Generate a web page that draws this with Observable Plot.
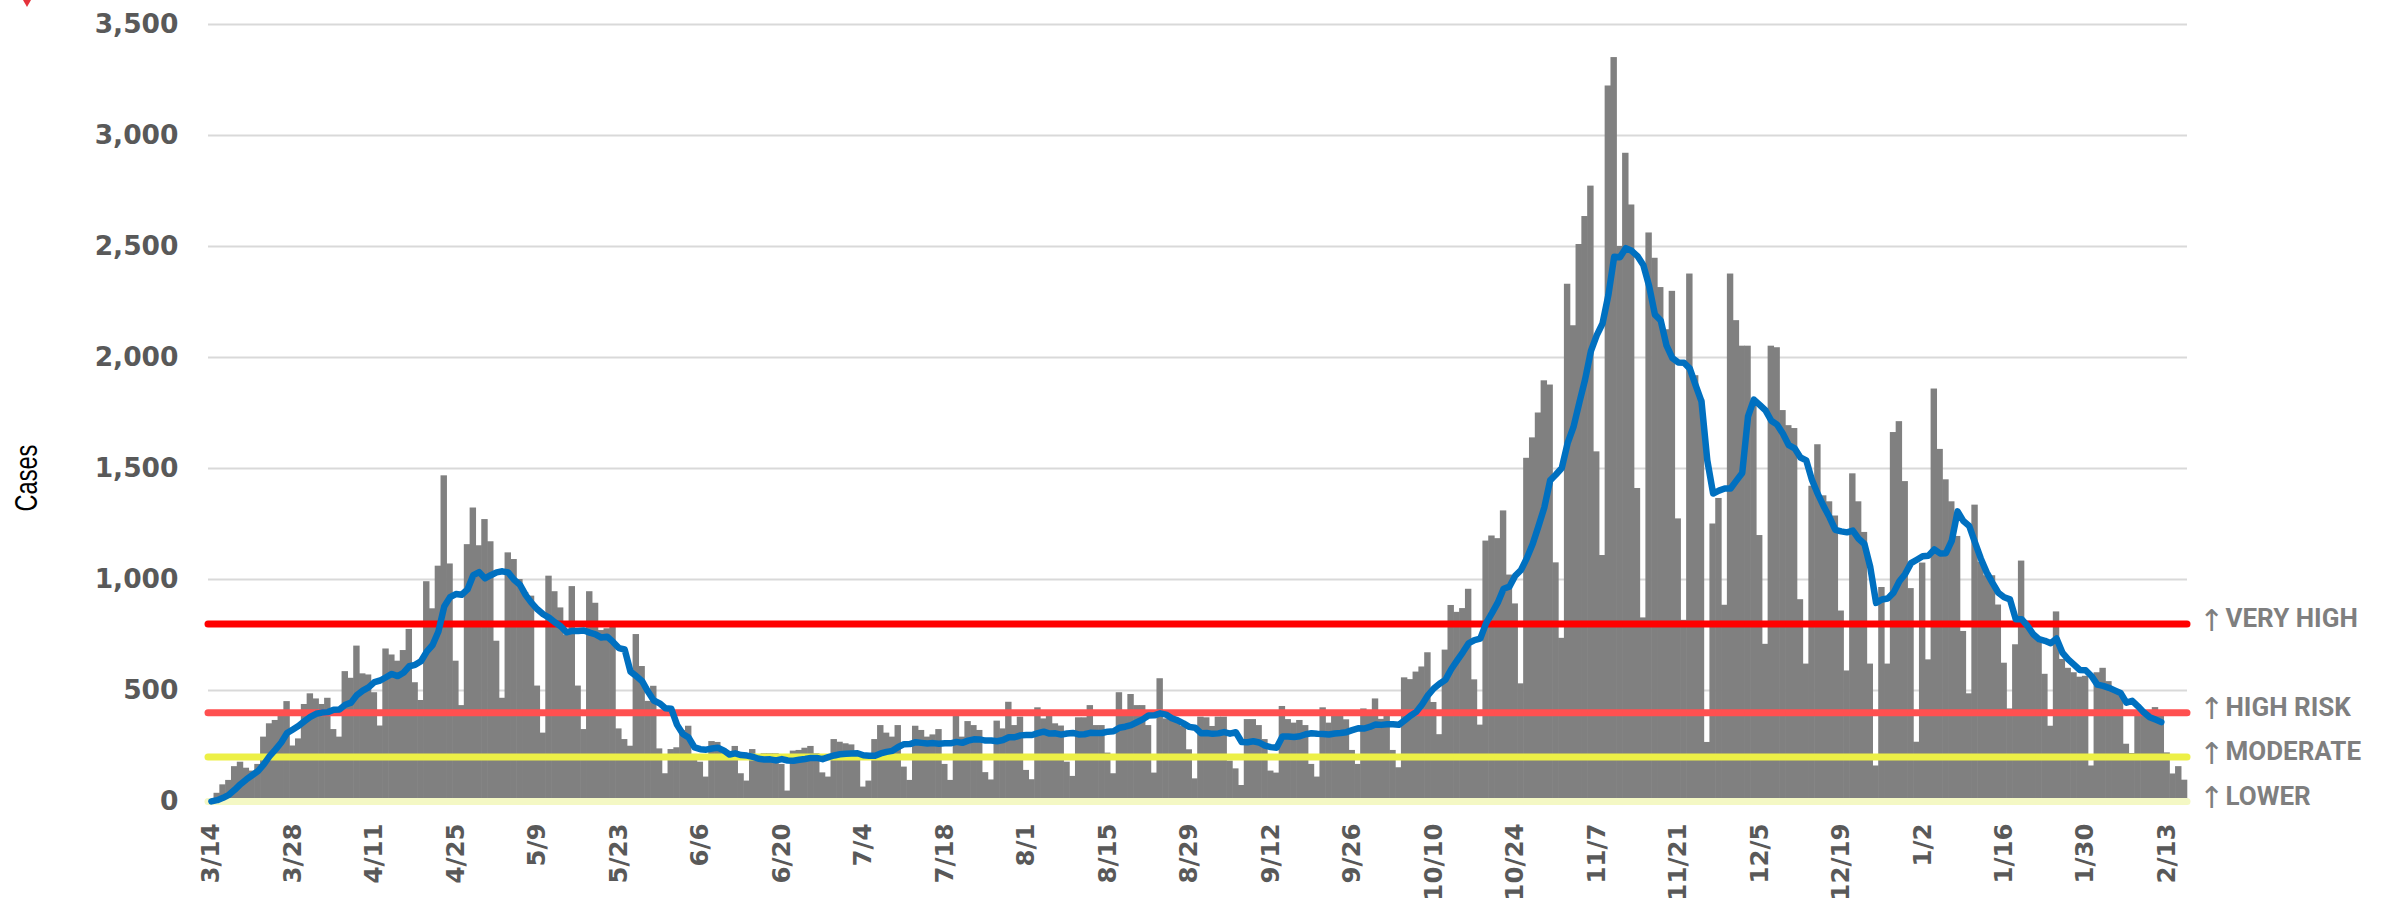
<!DOCTYPE html>
<html>
<head>
<meta charset="utf-8">
<script src="https://cdn.jsdelivr.net/npm/d3@7"></script>
<script src="https://cdn.jsdelivr.net/npm/@observablehq/plot@0.6"></script>
<style>
  html, body { margin: 0; padding: 0; background: #ffffff; }
  #wrap { position: relative; width: 2387px; height: 902px; overflow: hidden; }
  #mark { position: absolute; left: 23px; top: 0; width: 0; height: 0;
          border-left: 4px solid transparent; border-right: 4px solid transparent;
          border-top: 7px solid #e5323b; }
  #ylabel { position: absolute; left: 26px; top: 478px; white-space: nowrap; line-height: 1;
            font-family: 'Liberation Sans', Arial, sans-serif; font-size: 31px; color: #000000;
            transform-origin: center; transform: translate(-50%, -50%) rotate(-90deg) scaleX(0.76); }
  #wrap svg g[aria-label^="x-axis"] text { font-size: 24.5px; }
</style>
</head>
<body>
<div id="wrap"><div id="mark"></div><div id="ylabel">Cases</div></div>
<script>
// ---- data ----
const startDate = "2020-03-14";
const cases = [
  5,37,75,95,157,177,150,
  137,167,290,350,365,400,450,
  250,282,437,485,462,437,465,
  324,290,585,555,700,575,570,
  490,340,687,660,632,680,775,
  535,455,990,868,1060,1467,1070,
  632,432,1157,1322,1152,1270,1170,
  722,465,1120,1090,1000,940,925,
  520,308,1015,945,872,750,968,
  520,324,945,893,770,778,800,
  327,279,249,752,608,451,519,
  237,125,234,242,320,339,212,
  177,110,270,266,237,210,248,
  125,92,234,200,215,215,215,
  167,47,227,230,240,248,215,
  129,110,279,267,260,255,222,
  65,92,279,342,308,290,342,
  155,95,339,320,290,300,324,
  167,95,383,290,360,342,320,
  130,97,362,327,447,342,380,
  140,98,422,372,387,350,340,
  177,113,377,377,432,342,342,
  218,125,490,410,482,432,432,
  342,128,553,372,365,365,338,
  233,102,380,377,338,380,380,
  182,147,72,369,369,342,279,
  137,128,428,369,353,365,342,
  167,110,422,353,383,383,368,
  230,167,417,402,462,370,385,
  230,152,557,549,583,606,670,
  446,301,682,883,852,869,956,
  548,344,1173,1196,1184,1309,1020,
  890,530,1546,1638,1750,1895,1876,
  1075,735,2330,2143,2509,2635,2772,
  1575,1108,3223,3351,2500,2920,2687,
  1410,827,2561,2447,2315,2125,2298,
  1273,816,2376,1918,1811,266,1250,
  1365,884,2376,2166,2051,2051,1780,
  1198,708,2051,2044,1761,1693,1680,
  909,619,1420,1607,1377,1350,1286,
  858,588,1476,1350,1212,619,160,
  964,619,1662,1711,1441,959,267,
  1074,638,1858,1586,1449,1350,1194,
  766,485,1335,1078,1017,1017,885,
  623,417,706,1083,812,748,729,
  573,339,854,640,600,580,560,
  564,160,580,600,540,500,480,
  258,216,408,408,390,423,400,
  219,124,157,96
];
const tickLabels = ["3/14","3/28","4/11","4/25","5/9","5/23","6/6","6/20","7/4","7/18","8/1","8/15","8/29",
                    "9/12","9/26","10/10","10/24","11/7","11/21","12/5","12/19","1/2","1/16","1/30","2/13"];
const yTicks = [0, 500, 1000, 1500, 2000, 2500, 3000, 3500];
const thresholdValues = [800, 400, 200, 0];
const thresholdLabels = ["VERY HIGH", "HIGH RISK", "MODERATE", "LOWER"];
const thresholdColors = ["#FF0000", "#FF5050", "#EDF046", "#F4F8C4"];
const averageWindow = 7;
const averageLastDate = "2/12";

// ---- derived tables for the library ----
const fmt = d3.utcFormat("%-m/%-d");
const start = d3.utcParse("%Y-%m-%d")(startDate);
const dayLabels = cases.map((_, i) => fmt(d3.utcDay.offset(start, i)));
const data = cases.map((v, i) => ({i, date: dayLabels[i], cases: v}));
const tickIndex = tickLabels.map(l => dayLabels.indexOf(l));
const avgEnd = dayLabels.indexOf(averageLastDate);
const thresholds = thresholdValues.map((v, i) => ({value: v, label: thresholdLabels[i], color: thresholdColors[i]}));

const chart = Plot.plot({
  width: 2387,
  height: 902,
  marginLeft: 208,
  marginRight: 200,
  marginTop: 24,
  marginBottom: 101,
  style: {
    fontFamily: "'DejaVu Sans', Verdana, sans-serif",
    fontSize: "26.5px",
    fontWeight: "bold",
    color: "#595959",
    background: "transparent"
  },
  x: {
    type: "linear",
    domain: [-0.5, cases.length - 0.5],
    ticks: tickIndex,
    tickFormat: i => dayLabels[i],
    tickRotate: -90,
    tickSize: 0,
    tickPadding: 22,
    label: null
  },
  y: {
    domain: [0, 3500],
    ticks: yTicks,
    tickFormat: d3.format(","),
    tickSize: 0,
    tickPadding: 30,
    label: null
  },
  color: {type: "identity"},
  marks: [
    Plot.ruleY(yTicks, {stroke: "#D9D9D9", strokeWidth: 2}),
    Plot.rectY(data, {
      x1: d => d.i - 0.5, x2: d => d.i + 0.5, y: "cases",
      fill: "#808080", insetLeft: -0.3, insetRight: -0.3
    }),
    Plot.ruleY(thresholds, {y: "value", stroke: "color", strokeWidth: 7, strokeLinecap: "round"}),
    Plot.line(data, Plot.filter(d => d.i <= avgEnd,
      Plot.windowY(
        {k: averageWindow, anchor: "end", reduce: v => d3.sum(v) / averageWindow},
        {x: "i", y: "cases", stroke: "#0070C0", strokeWidth: 6.5, strokeLinejoin: "round", strokeLinecap: "round"}
      ))),
    Plot.text(thresholds, {
      y: "value", text: () => "\u2191", frameAnchor: "right", dx: 24, dy: -3,
      textAnchor: "middle", fill: "#7F7F7F", fontFamily: "'DejaVu Sans', sans-serif",
      fontWeight: "normal", fontSize: 30
    }),
    Plot.text(thresholds, {
      y: "value", text: "label", frameAnchor: "right", dx: 38, dy: -5,
      textAnchor: "start", fill: "#7F7F7F", fontFamily: "Roboto, sans-serif",
      fontWeight: "bold", fontSize: 26
    })
  ]
});
document.getElementById("wrap").insertBefore(chart, document.getElementById("mark"));
</script>
</body>
</html>
